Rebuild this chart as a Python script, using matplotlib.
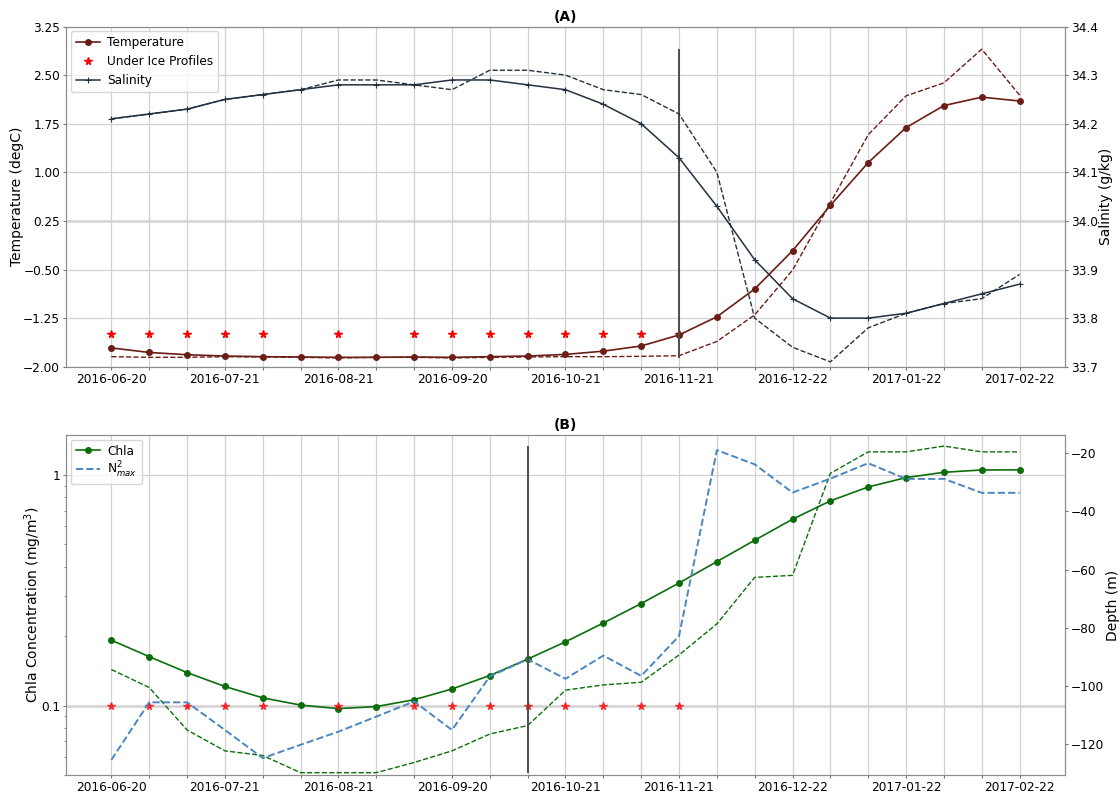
import numpy as np
import matplotlib
matplotlib.use("Agg")
import matplotlib.pyplot as plt
from matplotlib.ticker import FuncFormatter, NullFormatter, FixedLocator

# ---- data -------------------------------------------------------------
n_points = 25
label_every = 3
date_labels = ["2016-06-20", "2016-07-21", "2016-08-21", "2016-09-20",
               "2016-10-21", "2016-11-21", "2016-12-22", "2017-01-22",
               "2017-02-22"]

temperature = [-1.71, -1.78, -1.815, -1.835, -1.845, -1.85, -1.855, -1.855,
               -1.85, -1.855, -1.845, -1.835, -1.81, -1.76, -1.68, -1.51,
               -1.23, -0.80, -0.21, 0.49, 1.15, 1.69, 2.03, 2.16, 2.10]
temperature_surface = [-1.845, -1.855, -1.855, -1.845, -1.85, -1.855, -1.865,
                       -1.855, -1.855, -1.865, -1.855, -1.85, -1.845, -1.845,
                       -1.84, -1.83, -1.61, -1.20, -0.51, 0.53, 1.58, 2.18,
                       2.38, 2.90, 2.19]
salinity = [34.21, 34.22, 34.23, 34.25, 34.26, 34.27, 34.28, 34.28, 34.28,
            34.29, 34.29, 34.28, 34.27, 34.24, 34.20, 34.13, 34.03, 33.92,
            33.84, 33.80, 33.80, 33.81, 33.83, 33.85, 33.87]
salinity_surface = [34.21, 34.22, 34.23, 34.25, 34.26, 34.27, 34.29, 34.29,
                    34.28, 34.27, 34.31, 34.31, 34.30, 34.27, 34.26, 34.22,
                    34.10, 33.80, 33.74, 33.71, 33.78, 33.81, 33.83, 33.84,
                    33.89]

chla = [0.192, 0.163, 0.139, 0.121, 0.108, 0.1005, 0.097, 0.099, 0.106,
        0.118, 0.135, 0.159, 0.189, 0.228, 0.277, 0.340, 0.421, 0.521,
        0.643, 0.772, 0.887, 0.974, 1.027, 1.051, 1.052]
chla_max_depth = [-94.4, -100.6, -115.2, -122.4, -124.0, -129.9, -129.9,
                  -129.9, -126.4, -122.4, -116.6, -113.7, -101.5, -99.7,
                  -98.8, -89.4, -78.7, -62.7, -62.0, -26.9, -19.5, -19.5,
                  -17.5, -19.5, -19.5]
n2_max_depth = [-125.5, -105.7, -105.7, -115.2, -124.9, -120.3, -115.8,
                -110.6, -105.4, -115.2, -96.8, -90.9, -97.6, -89.6, -96.6,
                -82.9, -18.9, -23.8, -33.5, -28.7, -23.4, -28.8, -28.8,
                -33.6, -33.6]

under_ice = [0, 1, 2, 3, 4, 6, 8, 9, 10, 11, 12, 13, 14, 15]
under_ice_temp_level = -1.5
under_ice_chla_level = 0.1
event_top = 15
event_bottom = 11

# ---- styling ----------------------------------------------------------
plt.rcParams.update({
    "font.family": "DejaVu Sans",
    "font.size": 10,
    "axes.edgecolor": "0.55",
    "xtick.color": "0.45",
    "ytick.color": "0.45",
    "xtick.labelcolor": "black",
    "ytick.labelcolor": "black",
    "xtick.labelsize": 8.7,
    "ytick.labelsize": 8.7,
    "xtick.major.size": 2.5,
    "ytick.major.size": 2.5,
    "ytick.minor.size": 1.6,
    "xtick.major.pad": 1.8,
    "ytick.major.pad": 1.8,
    "grid.color": "0.82",
    "grid.linewidth": 0.9,
})

c_temp = "#6b1d16"
c_sal = "#243140"
c_chla = "#0b6e0b"
c_n2 = "#4a86c2"

x = np.arange(n_points)
ice_x = np.array(under_ice)

fig = plt.figure(figsize=(11.2, 7.96), dpi=100)
ax1 = fig.add_axes([0.0589, 0.5393, 0.892, 0.4274])
ax2 = fig.add_axes([0.0589, 0.0264, 0.892, 0.4271])


def style_x(ax):
    ax.xaxis.set_major_locator(FixedLocator(x))
    labels = [""] * n_points
    for k, lab in enumerate(date_labels):
        labels[k * label_every] = lab
    ax.set_xticklabels(labels)
    ax.grid(True, axis="both")
    ax.set_axisbelow(True)


legend_kw = dict(loc="upper left", fontsize=8.7, borderaxespad=0.4,
                 handletextpad=0.6, handlelength=2.0)

# ---- panel A ----------------------------------------------------------
ax1.plot(ice_x, [under_ice_temp_level] * len(ice_x), ls="none", marker="*",
         color="red", ms=5.5, zorder=2, label="Under Ice Profiles")
ax1.plot(x, temperature, color=c_temp, lw=1.2, marker="o", ms=4,
         zorder=3, label="Temperature")
ax1.plot(x, temperature_surface, color=c_temp, lw=1.0, ls="--", zorder=3)
ax1.vlines(event_top, min(temperature_surface), max(temperature_surface),
           color="0.3", lw=1.4, zorder=4)
ax1.axhline(0.25, color="0.88", lw=2.2, zorder=0)
ax1.set_ylim(-2.0, 3.25)
ax1.set_yticks(np.linspace(-2.0, 3.25, 8))
ax1.set_ylabel("Temperature (degC)", fontsize=10, labelpad=-1)
ax1.set_title("(A)", fontweight="bold", fontsize=10, pad=4)
style_x(ax1)

ax1r = ax1.twinx()
ax1r.plot(x, salinity, color=c_sal, lw=1.1, marker="+", ms=5, mew=0.8,
          label="Salinity")
ax1r.plot(x, salinity_surface, color=c_sal, lw=1.0, ls="--")
ax1r.set_ylim(33.7, 34.4)
ax1r.set_yticks(np.linspace(33.7, 34.4, 8))
ax1r.set_ylabel("Salinity (g/kg)", fontsize=10, labelpad=1)

h1, l1 = ax1.get_legend_handles_labels()
h2, l2 = ax1r.get_legend_handles_labels()
order = [l1.index("Temperature"), l1.index("Under Ice Profiles")]
ax1r.legend([h1[i] for i in order] + h2, [l1[i] for i in order] + l2,
            **legend_kw)

# ---- panel B ----------------------------------------------------------
ax2.set_yscale("log")
ax2.plot(x, chla, color=c_chla, lw=1.2, marker="o", ms=4, zorder=3,
         label="Chla")
ax2.plot(ice_x, [under_ice_chla_level] * len(ice_x), ls="none", marker="*",
         color="red", ms=5.5, alpha=0.7, zorder=4)
ax2.axhline(under_ice_chla_level, color="0.88", lw=2.2, zorder=0)
ax2.set_ylim(0.05, 1.49)
ax2.yaxis.set_major_formatter(FuncFormatter(lambda v, p: f"{v:g}"))
ax2.yaxis.set_minor_formatter(NullFormatter())
ax2.set_ylabel("Chla Concentration (mg/m$^3$)", fontsize=10, labelpad=-2)
ax2.set_title("(B)", fontweight="bold", fontsize=10, pad=4)
style_x(ax2)
ax2.grid(False, which="minor")

ax2r = ax2.twinx()
ax2r.plot(x, chla_max_depth, color=c_chla, lw=1.0, ls="--")
ax2r.plot(x, n2_max_depth, color=c_n2, lw=1.4, ls="--",
          label="N$^2_{max}$")
ax2r.vlines(event_bottom, min(chla_max_depth), max(chla_max_depth),
            color="0.3", lw=1.4)
ax2r.set_ylim(-130.7, -13.7)
ax2r.set_yticks([-120, -100, -80, -60, -40, -20])
ax2r.set_ylabel("Depth (m)", fontsize=10, labelpad=1)

h3, l3 = ax2.get_legend_handles_labels()
h4, l4 = ax2r.get_legend_handles_labels()
ax2r.legend(h3 + h4, l3 + l4, labelspacing=0.15, **legend_kw)

fig.savefig("out.png", dpi=100)
